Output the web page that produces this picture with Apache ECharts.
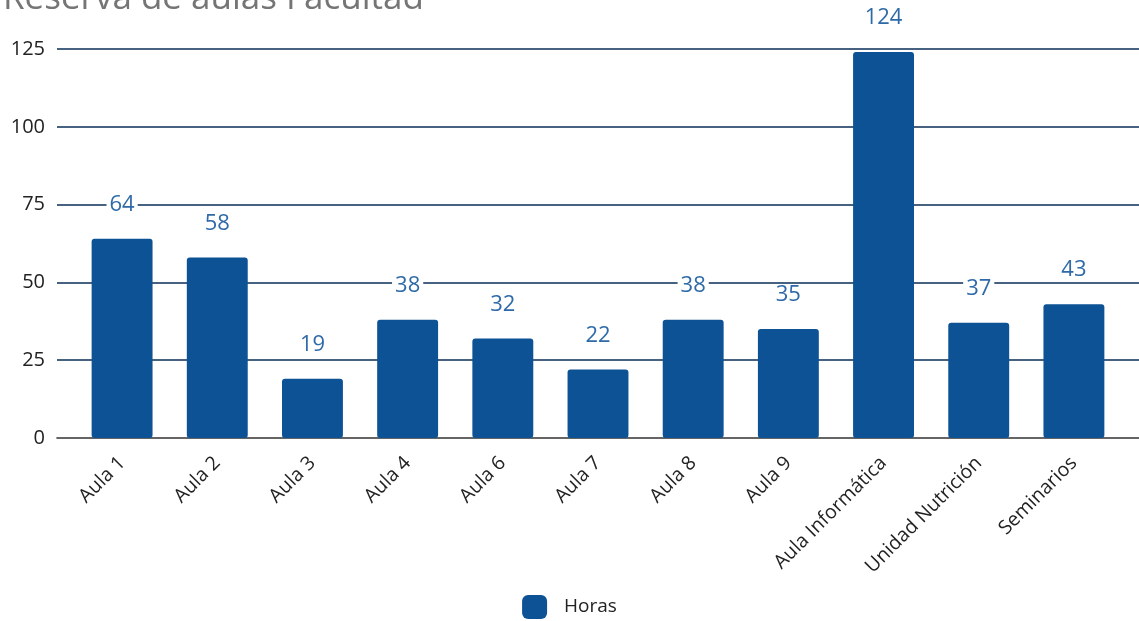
<!DOCTYPE html>
<html>
<head>
<meta charset="utf-8">
<script src="https://cdn.jsdelivr.net/npm/echarts@6/dist/echarts.min.js"></script>
<style>
    html, body { margin: 0; padding: 0; background: #fff; }
    #chart { width: 1139px; height: 621px; }
</style>
</head>
<body>
<div id="chart"></div>
<script>
const categories = ['Aula 1', 'Aula 2', 'Aula 3', 'Aula 4', 'Aula 6', 'Aula 7', 'Aula 8', 'Aula 9', 'Aula Informática', 'Unidad Nutrición', 'Seminarios'];
const horas = [64, 58, 19, 38, 32, 22, 38, 35, 124, 37, 43];
const yTicks = [0, 25, 50, 75, 100, 125];

const font = 'Open Sans, Noto Sans, sans-serif';
const yMin = yTicks[0];
const yMax = yTicks[yTicks.length - 1];

const myChart = echarts.init(document.getElementById('chart'));
const option = {
    animation: false,
    title: {
        text: 'Reserva de aulas Facultad',
        left: -2,
        top: -23,
        textStyle: { color: '#757575', fontSize: 35, fontWeight: 'normal', fontFamily: font }
    },
    legend: {
        bottom: -3,
        left: 'center',
        itemWidth: 25,
        itemHeight: 24,
        icon: 'roundRect',
        textStyle: { color: '#222', fontSize: 19, fontFamily: font, padding: [0, 0, 0, 12] },
        data: ['Horas']
    },
    grid: [
        // bars
        { left: 74.5, right: 17.5, top: 49, bottom: 183 },
        // full-width grid lines and value labels
        { left: 57, right: 0, top: 49, bottom: 183 }
    ],
    xAxis: [
        {
            type: 'category',
            gridIndex: 0,
            data: categories,
            axisLine: { show: false },
            axisTick: { show: false },
            axisLabel: {
                rotate: 45,
                interval: 0,
                margin: 22,
                color: '#222',
                fontSize: 19.5,
                fontFamily: font
            }
        },
        {
            type: 'value',
            gridIndex: 1,
            min: 0,
            max: 1,
            axisLine: { show: true, onZero: false, lineStyle: { color: '#333', width: 1.6 } },
            axisTick: { show: false },
            axisLabel: { show: false },
            splitLine: { show: false }
        }
    ],
    yAxis: [
        {
            type: 'value',
            gridIndex: 0,
            min: yMin,
            max: yMax,
            interval: 25,
            axisLine: { show: false },
            axisTick: { show: false },
            axisLabel: { show: false },
            splitLine: { show: false }
        },
        {
            type: 'value',
            gridIndex: 1,
            min: yMin,
            max: yMax,
            interval: 25,
            axisLine: { show: false },
            axisTick: { show: false },
            axisLabel: { color: '#222', fontSize: 20, margin: 12, fontFamily: font },
            splitLine: {
                lineStyle: { color: '#0a2d57', width: 1.6 },
                showMinLine: false
            }
        }
    ],
    series: [
        {
            name: 'Horas',
            type: 'bar',
            xAxisIndex: 0,
            yAxisIndex: 0,
            barWidth: '64%',
            z: 3,
            itemStyle: { color: '#0d5294', borderRadius: 3 },
            label: {
                show: true,
                position: 'top',
                distance: 23,
                color: '#2f6aa8',
                fontSize: 22,
                fontFamily: font,
                backgroundColor: '#fff',
                padding: [0, 3]
            },
            data: horas
        }
    ]
};
myChart.setOption(option);
</script>
</body>
</html>
